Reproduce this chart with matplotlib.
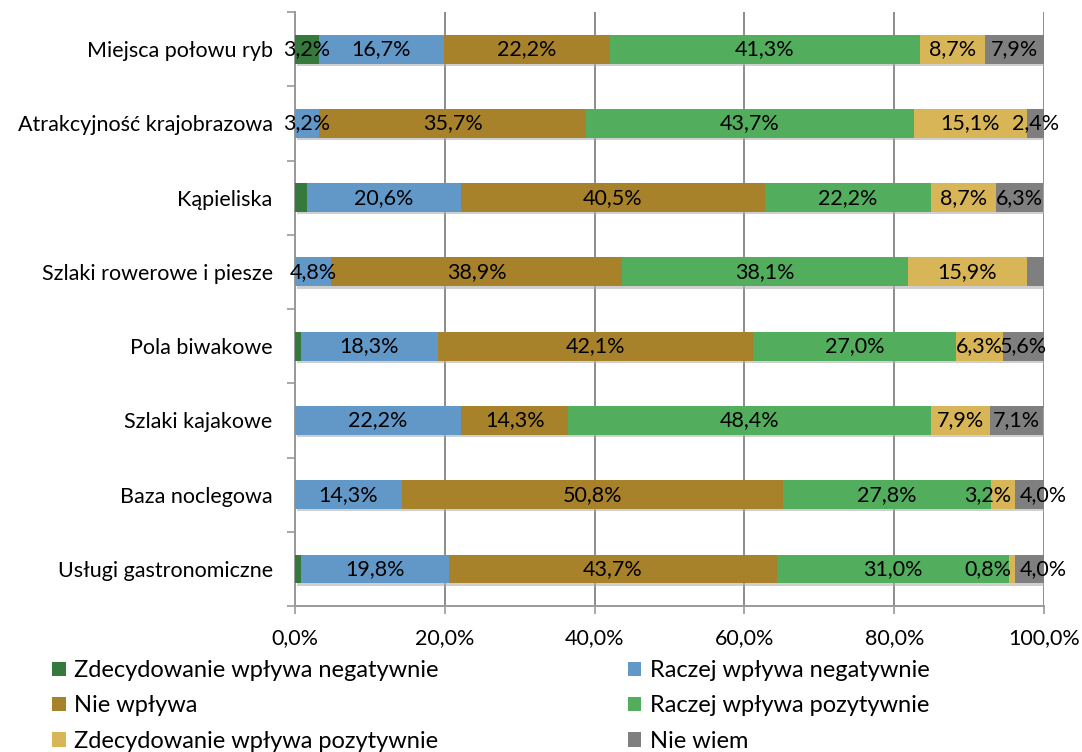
import matplotlib
matplotlib.use("Agg")
import matplotlib.pyplot as plt
import matplotlib.patheffects as pe
import numpy as np
from matplotlib.ticker import FixedLocator, FuncFormatter

plt.rcParams["font.family"] = ["Lato", "DejaVu Sans"]

# ── Data (top to bottom as in the chart) ──────────────────
categories = [
    "Miejsca połowu ryb",
    "Atrakcyjność krajobrazowa",
    "Kąpieliska",
    "Szlaki rowerowe i piesze",
    "Pola biwakowe",
    "Szlaki kajakowe",
    "Baza noclegowa",
    "Usługi gastronomiczne",
]
series = [
    "Zdecydowanie wpływa negatywnie",
    "Raczej wpływa negatywnie",
    "Nie wpływa",
    "Raczej wpływa pozytywnie",
    "Zdecydowanie wpływa pozytywnie",
    "Nie wiem",
]
zdec_neg = [3.2, 0.0, 1.6, 0.0, 0.8, 0.0, 0.0, 0.8]
raczej_neg = [16.7, 3.2, 20.6, 4.8, 18.3, 22.2, 14.3, 19.8]
nie_wplywa = [22.2, 35.7, 40.5, 38.9, 42.1, 14.3, 50.8, 43.7]
raczej_poz = [41.3, 43.7, 22.2, 38.1, 27.0, 48.4, 27.8, 31.0]
zdec_poz = [8.7, 15.1, 8.7, 15.9, 6.3, 7.9, 3.2, 0.8]
nie_wiem = [7.9, 2.4, 6.3, 2.4, 5.6, 7.1, 4.0, 4.0]

# segments shown without a data label: (category index, series index)
unlabeled = {(2, 0), (3, 5), (4, 0), (7, 0)}
# label nudges in pixels, to keep crowded labels apart as in the original
nudge = {(6, 4): -15, (6, 5): 14, (7, 4): -24, (7, 5): 14}

colors = ["#357A3C", "#6198C8", "#A8822A", "#52AD5D", "#D8B556", "#7F7F7F"]

values = [zdec_neg, raczej_neg, nie_wplywa, raczej_poz, zdec_poz, nie_wiem]

fig = plt.figure(figsize=(10.82, 7.52), dpi=100)
ax = fig.add_axes([0.2726, 0.194, 0.6923, 0.790])

y = np.arange(len(categories))[::-1]
left = np.zeros(len(categories))
handles = []
shadow = [pe.SimplePatchShadow(offset=(1.2, -1.5), shadow_rgbFace="#b0b0b0", alpha=0.6),
          pe.Normal()]
for j, (name, vals, col) in enumerate(zip(series, values, colors)):
    vals = np.array(vals)
    bars = ax.barh(y, vals, left=left, height=0.39, color=col, label=name,
                   zorder=3)
    for b in bars:
        b.set_path_effects(shadow)
    handles.append(bars)
    for i, v in enumerate(vals):
        if v <= 0 or (i, j) in unlabeled:
            continue
        ax.annotate(f"{v:.1f}%".replace(".", ","), (left[i] + v / 2, y[i]),
                    xytext=(nudge.get((i, j), 0), 0), textcoords="offset pixels",
                    ha="center", va="center", fontsize=15.5, color="black",
                    zorder=4)
    left += vals

ax.set_xlim(0, 100)
ax.set_ylim(-0.5, len(categories) - 0.5)

ax.xaxis.set_major_locator(FixedLocator([0, 20, 40, 60, 80, 100]))
ax.xaxis.set_major_formatter(FuncFormatter(lambda v, p: f"{v:.1f}%".replace(".", ",")))
ax.set_yticks(y)
ax.set_yticklabels(categories)
ax.yaxis.set_minor_locator(FixedLocator(np.arange(-0.5, len(categories), 1.0)))

ax.tick_params(axis="y", which="major", length=0, pad=16, labelsize=15.5)
ax.tick_params(axis="y", which="minor", length=6, width=1.2, color="#9a9a9a")
ax.tick_params(axis="x", which="major", length=6, width=1.2, color="#9a9a9a",
               pad=10, labelsize=15.5)

ax.grid(axis="x", color="#8c8c8c", linewidth=1.4, zorder=0)
ax.set_axisbelow(True)
for s in ["top", "right"]:
    ax.spines[s].set_visible(False)
for s in ["left", "bottom"]:
    ax.spines[s].set_color("#9a9a9a")
    ax.spines[s].set_linewidth(1.4)

order = [0, 2, 4, 1, 3, 5]
leg = fig.legend([handles[k] for k in order], [series[k] for k in order],
                 loc="upper left", bbox_to_anchor=(0.048, 0.122), ncol=2,
                 frameon=False, fontsize=17, handlelength=0.58, handleheight=0.58,
                 handletextpad=0.37, columnspacing=8.0, labelspacing=0.6,
                 borderaxespad=0, borderpad=0)
for h in leg.legend_handles:
    h.set_path_effects([])

fig.savefig("out.png", dpi=100, facecolor="white")
